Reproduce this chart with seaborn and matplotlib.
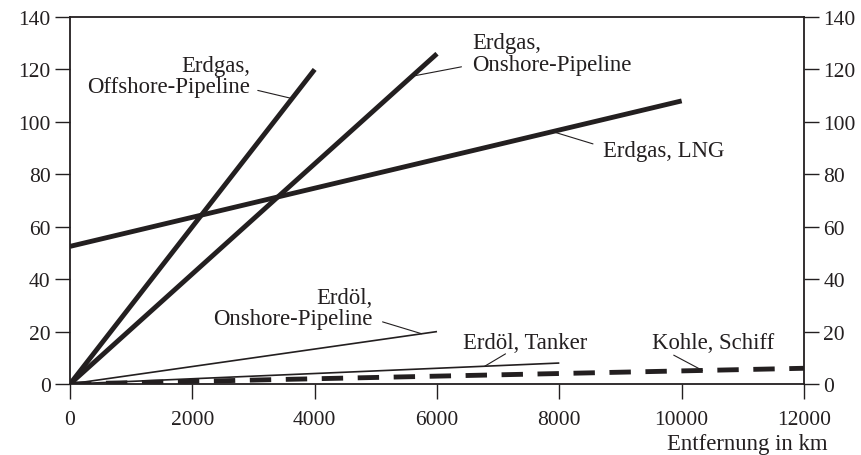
import numpy as np
import pandas as pd
import seaborn as sns
import matplotlib.pyplot as plt

# Transportkosten ueber Entfernung (Endpunkte der Geraden)
gas_offshore_x = [0, 4000]
gas_offshore_y = [0, 120]
gas_onshore_x = [0, 6000]
gas_onshore_y = [0, 126]
gas_lng_x = [0, 10000]
gas_lng_y = [52.5, 108]
oil_onshore_x = [0, 6000]
oil_onshore_y = [0, 20]
oil_tanker_x = [0, 8000]
oil_tanker_y = [0, 8]
coal_ship_x = [0, 12000]
coal_ship_y = [0, 6]

x_ticks = [0, 2000, 4000, 6000, 8000, 10000, 12000]
y_ticks = [0, 20, 40, 60, 80, 100, 120, 140]

sns.set_theme(style='ticks')
plt.rcParams['font.family'] = ['Liberation Serif', 'DejaVu Serif']

FS_TICK = 15.5
FS_LABEL = 16.4
INK = '#231f20'
THICK = 3.5
THIN = 1.2

fig = plt.figure(figsize=(8.61, 4.56), dpi=100)
ax = fig.add_axes([0.0813, 0.1557, 0.8525, 0.8048])

series = [
    ('offshore', gas_offshore_x, gas_offshore_y, THICK, '-'),
    ('onshore', gas_onshore_x, gas_onshore_y, THICK, '-'),
    ('lng', gas_lng_x, gas_lng_y, THICK, '-'),
    ('oil_onshore', oil_onshore_x, oil_onshore_y, THIN, '-'),
    ('tanker', oil_tanker_x, oil_tanker_y, THIN, '-'),
    ('coal', coal_ship_x, coal_ship_y, THICK, (0, (4.4, 3.0))),
]
lookup = {}
for name, xs, ys, lw, ls in series:
    df = pd.DataFrame({'x': xs, 'y': ys})
    lookup[name] = df
    sns.lineplot(data=df, x='x', y='y', ax=ax, color=INK, linewidth=lw,
                 linestyle=ls, solid_capstyle='butt', dash_capstyle='butt')


def on_line(name, x):
    df = lookup[name]
    return x, float(np.interp(x, df['x'], df['y']))


# labels: (text, series, text pos, ha, leader start, leader x on line)
labels = [
    ('Erdgas,\nOffshore-Pipeline', 'offshore', (2940, 117.5), 'right', (3070, 112), 3630),
    ('Erdgas,\nOnshore-Pipeline', 'onshore', (6570, 126), 'left', (6400, 121), 5590),
    ('Erdgas, LNG', 'lng', (8710, 89), 'left', (8550, 91.6), 7890),
    ('Erdöl,\nOnshore-Pipeline', 'oil_onshore', (4950, 29), 'right', (5110, 23.7), 5750),
    ('Erdöl, Tanker', 'tanker', (6420, 16), 'left', (7120, 11.5), 6780),
    ('Kohle, Schiff', 'coal', (9510, 16), 'left', (9870, 11), 10340),
]
for text, name, pos, ha, start, lx in labels:
    ax.text(pos[0], pos[1], text, ha=ha, va='center', fontsize=FS_LABEL,
            color=INK, linespacing=1.05, multialignment=ha)
    end = on_line(name, lx)
    ax.plot([start[0], end[0]], [start[1], end[1]], color=INK, linewidth=0.8)

ax.set_xlim(0, 12000)
ax.set_ylim(0, 140)
ax.set_xticks(x_ticks)
ax.set_yticks(y_ticks)
ax.set_xlabel('')
ax.set_ylabel('')
ax.tick_params(axis='both', direction='out', length=11, width=1.0,
               colors=INK, labelsize=FS_TICK, pad=4)
ax.tick_params(axis='x', pad=8)
ax.tick_params(axis='y', right=True, labelright=True, pad=3)
for sp in ax.spines.values():
    sp.set_visible(True)
    sp.set_linewidth(1.3)
    sp.set_color(INK)

ax.text(1.0327, -0.163, 'Entfernung in km', transform=ax.transAxes,
        ha='right', va='center', fontsize=FS_LABEL, color=INK)

fig.savefig('out.png', dpi=100)
